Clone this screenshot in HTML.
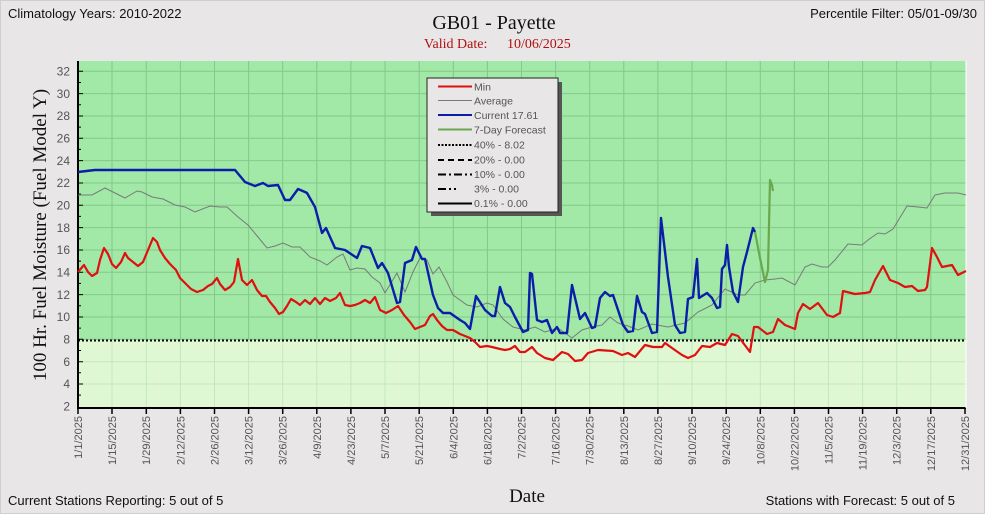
<!DOCTYPE html>
<html><head><meta charset="utf-8"><style>
body{margin:0;background:#e8e6e6;}
svg{display:block}
</style></head><body>
<svg width="985" height="514" viewBox="0 0 985 514" xmlns="http://www.w3.org/2000/svg">
<rect width="985" height="514" fill="#e8e6e6"/>
<rect x="0.5" y="0.5" width="984" height="513" fill="none" stroke="#cfcfcf"/>
<g font-family="Liberation Sans, sans-serif" font-size="13" fill="#111">
<text x="8" y="18">Climatology Years: 2010-2022</text>
<text x="977" y="18" text-anchor="end">Percentile Filter:  05/01-09/30</text>
<text x="8" y="505">Current Stations Reporting: 5 out of 5</text>
<text x="955" y="505" text-anchor="end">Stations with Forecast: 5 out of 5</text>
</g>
<text x="494" y="29" font-family="Liberation Serif, serif" font-size="20" text-anchor="middle" fill="#111">GB01 - Payette</text>
<text x="424" y="48" font-family="Liberation Serif, serif" font-size="14" fill="#b01010">Valid Date:</text>
<text x="507" y="48" font-family="Liberation Serif, serif" font-size="14" fill="#b01010">10/06/2025</text>
<text x="527" y="502" font-family="Liberation Serif, serif" font-size="19" text-anchor="middle" fill="#111">Date</text>
<text transform="translate(46,235) rotate(-90)" font-family="Liberation Serif, serif" font-size="19" text-anchor="middle" fill="#111">100 Hr.  Fuel Moisture  (Fuel Model Y)</text>
<!-- plot background -->
<rect x="78" y="61" width="888" height="279" fill="#a2e8a6"/>
<rect x="78" y="340" width="888" height="68" fill="#e0f7d4"/>
<g id="grid" stroke="#82c98a" stroke-width="1">
<path d="M78 71.3H966M78 93.6H966M78 116H966M78 138.3H966M78 160.6H966M78 183H966M78 205.3H966M78 227.6H966M78 250H966M78 272.3H966M78 294.6H966M78 317H966M78 339.3H966" />
</g>
<path d="M78 361.7H966M78 384H966" stroke="#c4e8bc"/>
<g stroke="#82c98a">
<path d="M112 61V340M146.3 61V340M180.4 61V340M214.5 61V340M248.6 61V340M282.7 61V340M316.8 61V340M350.9 61V340M385 61V340M419.2 61V340M453.3 61V340M487.4 61V340M521.5 61V340M555.6 61V340M589.7 61V340M623.8 61V340M657.9 61V340M692 61V340M726.2 61V340M760.3 61V340M794.4 61V340M828.5 61V340M862.6 61V340M896.7 61V340M930.8 61V340"/>
</g>
<g stroke="#c4e8bc">
<path d="M112 340V408M146.3 340V408M180.4 340V408M214.5 340V408M248.6 340V408M282.7 340V408M316.8 340V408M350.9 340V408M385 340V408M419.2 340V408M453.3 340V408M487.4 340V408M521.5 340V408M555.6 340V408M589.7 340V408M623.8 340V408M657.9 340V408M692 340V408M726.2 340V408M760.3 340V408M794.4 340V408M828.5 340V408M862.6 340V408M896.7 340V408M930.8 340V408"/>
</g>
<!-- axes -->
<path d="M78 61V408H966" stroke="#000" stroke-width="2" fill="none"/>
<path d="M966 61V408" stroke="#fff" stroke-width="1"/>
<g stroke="#000" stroke-width="1">
<path d="M78 71.3h5M78 82.5h3M78 93.6h5M78 104.8h3M78 116h5M78 127.1h3M78 138.3h5M78 149.4h3M78 160.6h5M78 171.8h3M78 183h5M78 194.1h3M78 205.3h5M78 216.4h3M78 227.6h5M78 238.8h3M78 250h5M78 261.1h3M78 272.3h5M78 283.4h3M78 294.6h5M78 305.8h3M78 317h5M78 328.1h3M78 339.3h5M78 350.5h3M78 361.7h5M78 372.8h3M78 384h5M78 395.1h3"/>
</g>
<g stroke="#000" stroke-width="1.5">
<path d="M78 408v6M112 408v6M146.3 408v6M180.4 408v6M214.5 408v6M248.6 408v6M282.7 408v6M316.8 408v6M350.9 408v6M385 408v6M419.2 408v6M453.3 408v6M487.4 408v6M521.5 408v6M555.6 408v6M589.7 408v6M623.8 408v6M657.9 408v6M692 408v6M726.2 408v6M760.3 408v6M794.4 408v6M828.5 408v6M862.6 408v6M896.7 408v6M930.8 408v6M965 408v6"/>
</g>
<g font-family="Liberation Sans, sans-serif" font-size="12" fill="#555" text-anchor="end">
<text x="70" y="75.5">32</text><text x="70" y="97.8">30</text><text x="70" y="120.2">28</text><text x="70" y="142.5">26</text><text x="70" y="164.8">24</text><text x="70" y="187.2">22</text><text x="70" y="209.5">20</text><text x="70" y="231.8">18</text><text x="70" y="254.2">16</text><text x="70" y="276.5">14</text><text x="70" y="298.8">12</text><text x="70" y="321.2">10</text><text x="70" y="343.5">8</text><text x="70" y="365.8">6</text><text x="70" y="388.2">4</text><text x="70" y="410.5">2</text>
</g>
<g font-family="Liberation Sans, sans-serif" font-size="11" fill="#555" text-anchor="end">
<text transform="translate(82,416) rotate(-90)">1/1/2025</text>
<text transform="translate(116,416) rotate(-90)">1/15/2025</text>
<text transform="translate(150,416) rotate(-90)">1/29/2025</text>
<text transform="translate(184.4,416) rotate(-90)">2/12/2025</text>
<text transform="translate(218.5,416) rotate(-90)">2/26/2025</text>
<text transform="translate(252.6,416) rotate(-90)">3/12/2025</text>
<text transform="translate(286.7,416) rotate(-90)">3/26/2025</text>
<text transform="translate(320.8,416) rotate(-90)">4/9/2025</text>
<text transform="translate(354.9,416) rotate(-90)">4/23/2025</text>
<text transform="translate(389,416) rotate(-90)">5/7/2025</text>
<text transform="translate(423.2,416) rotate(-90)">5/21/2025</text>
<text transform="translate(457.3,416) rotate(-90)">6/4/2025</text>
<text transform="translate(491.4,416) rotate(-90)">6/18/2025</text>
<text transform="translate(525.5,416) rotate(-90)">7/2/2025</text>
<text transform="translate(559.6,416) rotate(-90)">7/16/2025</text>
<text transform="translate(593.7,416) rotate(-90)">7/30/2025</text>
<text transform="translate(627.8,416) rotate(-90)">8/13/2025</text>
<text transform="translate(661.9,416) rotate(-90)">8/27/2025</text>
<text transform="translate(696,416) rotate(-90)">9/10/2025</text>
<text transform="translate(730.2,416) rotate(-90)">9/24/2025</text>
<text transform="translate(764.3,416) rotate(-90)">10/8/2025</text>
<text transform="translate(798.4,416) rotate(-90)">10/22/2025</text>
<text transform="translate(832.5,416) rotate(-90)">11/5/2025</text>
<text transform="translate(866.6,416) rotate(-90)">11/19/2025</text>
<text transform="translate(900.7,416) rotate(-90)">12/3/2025</text>
<text transform="translate(934.8,416) rotate(-90)">12/17/2025</text>
<text transform="translate(969,416) rotate(-90)">12/31/2025</text>
</g>
<!-- 40% line -->
<path d="M78 340.5H966" stroke="#000" stroke-width="2" stroke-dasharray="2,2"/>
<!-- average -->
<polyline fill="none" stroke="#7a7a7a" stroke-width="1" points="78,195 92,195 105,188 113,192 125,198 137,191 142,192 152,197 163,199 175,205 185,207 195,212 210,206 220,207 227,207 238,217 248,225 258,237 267,248 275,246 283,243 292,247 300,247 310,257 320,261 327,265 337,257 343,254 350,270 357,268 365,269 372,277 380,283 385,293 397,273 405,292 413,272 420,258 427,260 433,274 439,267 447,282 453,295 467,305 477,307 487,303 493,305 503,319 513,327 525,330 535,327 545,332 558,328 572,338 582,330 592,327 602,325 610,317 618,323 628,326 638,330 652,324 668,327 685,323 698,312 712,305 725,289 738,295 745,295 755,283 765,280 775,279 782,278 795,285 805,267 812,264 822,267 828,267 835,260 848,244 862,245 868,240 878,233 885,234 893,229 907,206 918,207 927,208 935,195 945,193 958,193 966,195"/>
<!-- min -->
<polyline fill="none" stroke="#e01010" stroke-width="2.2" stroke-linejoin="round" points="78,272 84,265 88,272 92,276 97,273 100,260 104,248 108,254 112,264 116,268 121,262 125,253 128,258 133,262 138,266 143,262 148,250 153,238 157,242 160,250 165,258 170,264 176,270 180,278 185,283 191,289 197,292 203,290 208,286 212,284 217,278 220,284 225,290 230,287 234,282 238,259 242,280 247,285 252,280 257,290 262,296 266,296 270,302 275,308 279,314 283,312 287,306 291,299 296,302 300,305 305,300 310,304 315,298 320,304 325,298 330,301 336,298 340,293 345,305 350,306 355,305 360,303 365,300 370,303 375,297 380,310 386,313 392,310 398,306 404,315 410,322 415,329 420,327 425,325 430,316 433,314 437,320 442,326 447,330 453,330 460,334 465,336 470,338 475,342 480,347 487,346 492,347 500,349 505,350 510,349 515,346 520,352 525,352 532,347 537,353 545,358 553,360 562,352 568,354 575,361 582,360 588,353 598,350 613,351 622,355 628,353 635,357 645,345 653,347 662,347 665,343 672,348 682,355 688,358 695,355 702,346 710,347 717,343 725,345 732,334 738,336 750,352 754,327 758,327 767,334 773,332 778,319 785,325 795,329 798,313 803,304 810,309 818,303 827,315 833,317 840,313 843,291 855,294 865,293 870,292 875,280 883,266 890,280 898,283 905,287 912,286 918,291 925,290 927,287 932,248 937,257 942,267 952,265 958,275 966,271"/>
<!-- current -->
<polyline fill="none" stroke="#0a1eaa" stroke-width="2.4" stroke-linejoin="round" points="78,172 95,170 235,170 245,182 255,186 263,183 268,186 278,185 285,200 290,200 298,189 305,192 307,193 315,207 322,233 326,228 335,248 345,250 357,258 362,246 370,248 378,268 382,263 388,273 397,303 400,302 405,263 412,260 416,247 422,259 425,259 433,295 438,308 443,313 450,313 460,320 465,323 470,329 476,296 485,310 492,316 495,316 500,287 505,303 510,307 515,317 523,332 528,330 530,273 532,274 537,320 542,322 547,320 552,333 557,327 560,333 567,333 572,285 580,319 585,313 592,328 595,327 600,298 605,292 610,296 613,295 623,325 628,332 633,331 637,296 642,312 645,314 652,333 657,332 661,218 668,277 675,325 680,333 685,332 688,299 693,297 697,259 699,298 707,293 712,298 717,308 720,307 722,269 725,265 727,245 729,267 733,292 738,302 743,267 747,252 753,228 755,232"/>
<!-- forecast -->
<polyline fill="none" stroke="#6aa84f" stroke-width="2.2" stroke-linejoin="round" points="755,232 760,258 765,282 768,270 770,180 772,185 773,191"/>
<!-- legend -->
<rect x="431" y="82" width="131" height="134" fill="#555"/>
<rect x="427" y="78" width="131" height="134" fill="#e8e6e6" stroke="#222" stroke-width="1"/>
<g stroke-width="2">
<path d="M438 86.5H472" stroke="#e01010"/>
<path d="M438 100.5H472" stroke="#7a7a7a" stroke-width="1"/>
<path d="M438 115H472" stroke="#0a1eaa"/>
<path d="M438 129.5H472" stroke="#6aa84f"/>
<path d="M438 145H472" stroke="#000" stroke-dasharray="2,1.5"/>
<path d="M438 160H472" stroke="#000" stroke-dasharray="6,4"/>
<path d="M438 174.5H472" stroke="#000" stroke-dasharray="8,3,2,3"/>
<path d="M438 189H472" stroke="#000" stroke-dasharray="8,3,2,3,2,30"/>
<path d="M438 203.5H472" stroke="#000"/>
</g>
<g font-family="Liberation Sans, sans-serif" font-size="10.5" fill="#555">
<text x="474" y="90.5">Min</text>
<text x="474" y="104.5">Average</text>
<text x="474" y="119">Current 17.61</text>
<text x="474" y="133.5">7-Day Forecast</text>
<text x="474" y="148.5">40% -  8.02</text>
<text x="474" y="163.5">20% -  0.00</text>
<text x="474" y="178">10% -  0.00</text>
<text x="474" y="192.5">3% -  0.00</text>
<text x="474" y="207">0.1% -  0.00</text>
</g>
</svg>
</body></html>
